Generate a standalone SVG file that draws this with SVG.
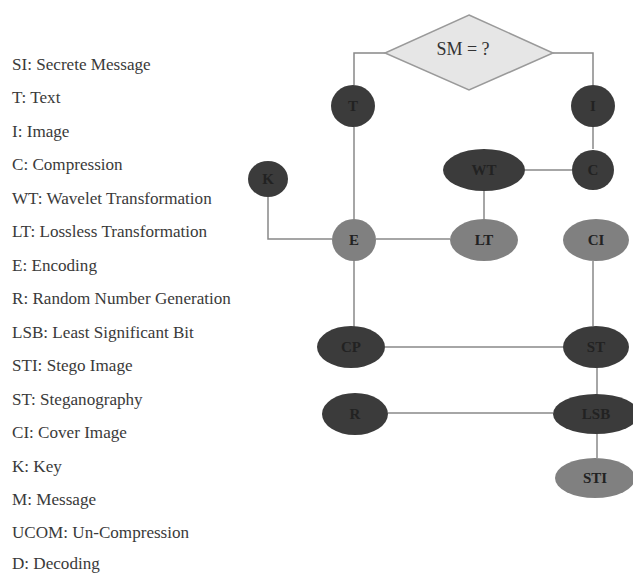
<svg xmlns="http://www.w3.org/2000/svg" width="633" height="574" viewBox="0 0 633 574">
<style>
.leg{font-family:"Liberation Serif","Times New Roman",serif;font-size:16px;fill:#3a3a3a}
.dk{fill:#3b3b3b}
.gr{fill:#808080}
.lbl{font-family:"Liberation Serif","Times New Roman",serif;font-size:15px;font-weight:bold;fill:#222;text-anchor:middle;dominant-baseline:central}
.ln{stroke:#888;stroke-width:1.5;fill:none}
</style>
<rect width="633" height="574" fill="#fff"/>
<g id="legend" transform="scale(1.07,1)">
<text class="leg" x="11.2" y="70">SI: Secrete Message</text>
<text class="leg" x="11.2" y="103.5">T: Text</text>
<text class="leg" x="11.2" y="137">I: Image</text>
<text class="leg" x="11.2" y="170.5">C: Compression</text>
<text class="leg" x="11.2" y="204">WT: Wavelet Transformation</text>
<text class="leg" x="11.2" y="237.5">LT: Lossless Transformation</text>
<text class="leg" x="11.2" y="271">E: Encoding</text>
<text class="leg" x="11.2" y="304.5">R: Random Number Generation</text>
<text class="leg" x="11.2" y="338">LSB: Least Significant Bit</text>
<text class="leg" x="11.2" y="371.5">STI: Stego Image</text>
<text class="leg" x="11.2" y="405">ST: Steganography</text>
<text class="leg" x="11.2" y="438.5">CI: Cover Image</text>
<text class="leg" x="11.2" y="472">K: Key</text>
<text class="leg" x="11.2" y="505.5">M: Message</text>
<text class="leg" x="11.2" y="538.5">UCOM: Un-Compression</text>
<text class="leg" x="11.2" y="569.5">D: Decoding</text>
</g>
<g id="connectors">
<polyline class="ln" points="385,53 354,53 354,85"/>
<polyline class="ln" points="553,53 593,53 593,85"/>
<line class="ln" x1="593" y1="127" x2="593" y2="149"/>
<line class="ln" x1="354" y1="127" x2="354" y2="219"/>
<line class="ln" x1="525" y1="170" x2="572" y2="170"/>
<line class="ln" x1="484" y1="191" x2="484" y2="219"/>
<polyline class="ln" points="268,197 268,239 332,239"/>
<line class="ln" x1="376" y1="239" x2="450" y2="239"/>
<line class="ln" x1="354" y1="261" x2="354" y2="327"/>
<line class="ln" x1="593" y1="261" x2="593" y2="326"/>
<line class="ln" x1="385" y1="347" x2="563" y2="347"/>
<line class="ln" x1="597" y1="367" x2="597" y2="395"/>
<line class="ln" x1="388" y1="413" x2="553" y2="413"/>
<line class="ln" x1="597" y1="433" x2="597" y2="458"/>
</g>
<g id="SM">
<polygon points="469,15 553,53 469,90 385,53" fill="#e6e6e6" stroke="#9a9a9a" stroke-width="1.5"/>
<text class="lbl" x="463" y="49" style="font-size:18px;font-weight:normal;fill:#333">SM = ?</text>
</g>
<g id="T"><ellipse class="dk" cx="353" cy="106" rx="22" ry="21"/><text class="lbl" x="353" y="106">T</text></g>
<g id="I"><ellipse class="dk" cx="593" cy="106" rx="22" ry="21"/><text class="lbl" x="593" y="106">I</text></g>
<g id="C"><ellipse class="dk" cx="593" cy="170" rx="21" ry="20"/><text class="lbl" x="593" y="170">C</text></g>
<g id="WT"><ellipse class="dk" cx="484" cy="170" rx="41" ry="21"/><text class="lbl" x="484" y="170">WT</text></g>
<g id="K"><ellipse class="dk" cx="268" cy="179" rx="20" ry="18"/><text class="lbl" x="268" y="179">K</text></g>
<g id="E"><ellipse class="gr" cx="354" cy="240" rx="22" ry="21"/><text class="lbl" x="354" y="240">E</text></g>
<g id="LT"><ellipse class="gr" cx="484" cy="240" rx="34" ry="21"/><text class="lbl" x="484" y="240">LT</text></g>
<g id="CI"><ellipse class="gr" cx="596" cy="240" rx="33" ry="21"/><text class="lbl" x="596" y="240">CI</text></g>
<g id="CP"><ellipse class="dk" cx="351" cy="347" rx="34" ry="21"/><text class="lbl" x="351" y="347">CP</text></g>
<g id="ST"><ellipse class="dk" cx="596" cy="347" rx="33" ry="21"/><text class="lbl" x="596" y="347">ST</text></g>
<g id="R"><ellipse class="dk" cx="355" cy="414" rx="33" ry="21"/><text class="lbl" x="355" y="414">R</text></g>
<g id="LSB"><ellipse class="dk" cx="596" cy="414" rx="43" ry="20"/><text class="lbl" x="596" y="414">LSB</text></g>
<g id="STI"><ellipse class="gr" cx="595" cy="478" rx="40" ry="20"/><text class="lbl" x="595" y="478">STI</text></g>
</svg>
